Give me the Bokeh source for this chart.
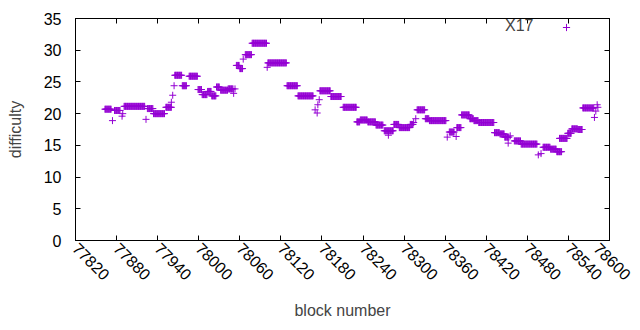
import math
from bokeh.plotting import figure
from bokeh.models import Range1d, FixedTicker, LinearAxis, Label, Legend, LegendItem
from bokeh.embed import file_html
from bokeh.resources import INLINE

# runs of blocks sharing one difficulty value: start block, end block, difficulty
run_start = [77863, 77877, 77891, 77925, 77934, 77952, 77965, 77976, 77986, 77999,
             78005, 78013, 78019, 78026, 78032, 78043, 78055, 78060, 78068, 78078,
             78101, 78129, 78145, 78177, 78193, 78211, 78231, 78236, 78247, 78259,
             78271, 78285, 78293, 78309, 78319, 78331, 78337, 78366, 78377, 78384,
             78396, 78402, 78409, 78432, 78440, 78447, 78461, 78471, 78503, 78514,
             78523, 78527, 78539, 78545, 78554, 78561]
run_end = [77872, 77885, 77921, 77933, 77950, 77960, 77975, 77982, 77998, 78004,
           78012, 78018, 78025, 78030, 78042, 78050, 78059, 78064, 78077, 78099,
           78128, 78144, 78167, 78192, 78208, 78230, 78235, 78246, 78258, 78269,
           78284, 78292, 78308, 78313, 78330, 78336, 78361, 78373, 78383, 78395,
           78401, 78408, 78431, 78439, 78446, 78453, 78470, 78494, 78513, 78522,
           78530, 78538, 78544, 78553, 78560, 78577]
run_diff = [20.7, 20.5, 21.15, 20.8, 20.0, 21.0, 26.05, 24.4, 25.9, 23.8,
            23.0, 23.5, 22.8, 24.2, 23.7, 23.9, 27.6, 27.1, 29.3, 31.1,
            28.0, 24.4, 22.8, 23.6, 22.7, 21.0, 18.7, 19.0, 18.7, 18.2,
            17.3, 18.3, 17.8, 18.3, 20.6, 19.2, 18.9, 17.1, 17.8, 19.8,
            19.2, 18.9, 18.6, 17.0, 16.8, 16.3, 15.7, 15.2, 14.7, 14.4,
            14.0, 16.1, 16.9, 17.6, 17.5, 20.9]

# isolated blocks
single_x = [77874, 77888, 77889, 77923, 77960, 77962, 77964, 78051, 78053, 78065,
            78100, 78170, 78173, 78174, 78176, 78277, 78314, 78317, 78363, 78376,
            78452, 78455, 78496, 78500, 78578, 78580, 78582, 78583]
single_y = [18.9, 19.6, 20.0, 19.1, 21.8, 22.9, 24.4, 23.2, 23.9, 28.6,
            27.3, 20.6, 20.1, 21.4, 22.2, 16.6, 18.6, 19.2, 16.3, 16.4,
            15.35, 16.5, 13.5, 13.7, 19.4, 20.4, 21.4, 21.0]

x_ticks = [77820, 77880, 77940, 78000, 78060, 78120, 78180, 78240, 78300,
           78360, 78420, 78480, 78540, 78600]
y_ticks = [0, 5, 10, 15, 20, 25, 30, 35]
series_name = "X17"

xs, ys = [], []
for s, e, d in zip(run_start, run_end, run_diff):
    for b in range(s, e + 1):
        xs.append(b)
        ys.append(d)
xs += single_x
ys += single_y

FONT = "Liberation Sans"
FS = "16px"
COLOR = "#9400d3"

p = figure(width=632, height=322, output_backend="svg", toolbar_location=None,
           x_range=Range1d(77820, 78600), y_range=Range1d(0, 35),
           min_border_left=75, min_border_right=23, min_border_top=18,
           min_border_bottom=76, x_axis_label="block number", y_axis_label="difficulty")
p.grid.visible = False
p.outline_line_color = "black"
p.background_fill_color = "white"
p.border_fill_color = "white"

r = p.scatter(xs, ys, marker="cross", size=7, line_color=COLOR, line_width=1)

for ax, ticks in ((p.xaxis[0], x_ticks), (p.yaxis[0], y_ticks)):
    ax.ticker = FixedTicker(ticks=ticks)
    ax.major_tick_in = 5
    ax.major_tick_out = 0
    ax.minor_tick_in = 0
    ax.minor_tick_out = 0
    ax.major_label_text_font = FONT
    ax.major_label_text_font_size = FS
    ax.major_label_text_color = "black"
    ax.axis_label_text_font = FONT
    ax.axis_label_text_font_size = FS
    ax.axis_label_text_font_style = "normal"
    ax.axis_line_color = "black"
    ax.major_tick_line_color = "black"

p.xaxis[0].major_label_orientation = -math.pi / 4
p.xaxis[0].major_label_standoff = 5
p.xaxis[0].axis_label_standoff = 14
p.yaxis[0].major_label_standoff = 14
p.yaxis[0].axis_label_standoff = 17

top = LinearAxis(ticker=FixedTicker(ticks=x_ticks), major_tick_in=5, major_tick_out=0,
                 minor_tick_in=0, minor_tick_out=0, major_label_standoff=0,
                 major_label_overrides={t: "" for t in x_ticks})
right = LinearAxis(ticker=FixedTicker(ticks=y_ticks), major_tick_in=5, major_tick_out=0,
                   minor_tick_in=0, minor_tick_out=0, major_label_standoff=0,
                   major_label_overrides={t: "" for t in y_ticks})
p.add_layout(top, "above")
p.add_layout(right, "right")

p.add_layout(Label(x=458, y=215, x_units="screen", y_units="screen",
                   text=series_name, text_font=FONT, text_font_size=FS,
                   text_align="right", text_baseline="middle"))

leg = Legend(items=[LegendItem(label=" ", renderers=[r])], location=(482, 204),
             padding=0, margin=0, glyph_width=18, glyph_height=18, label_standoff=0,
             label_width=0, label_height=0, label_text_font_size="1px",
             border_line_color=None, background_fill_alpha=0)
p.add_layout(leg, "center")

open("out.html", "w").write(file_html(p, INLINE))
